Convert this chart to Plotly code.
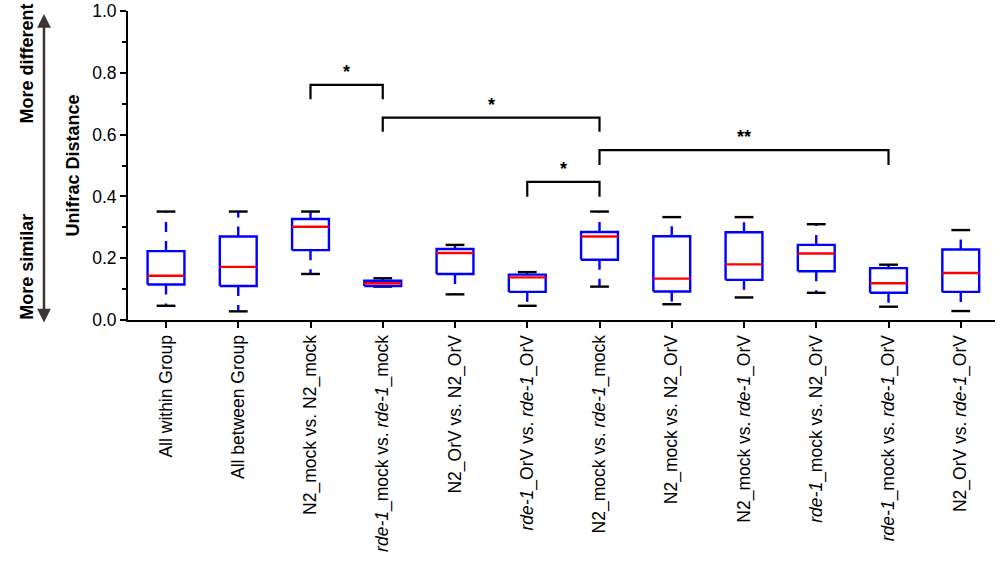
import plotly.graph_objects as go

categories = [
    "All within Group",
    "All between Group",
    "N2_mock vs. N2_mock",
    "<i>rde-1</i>_mock vs. <i>rde-1</i>_mock",
    "N2_OrV vs. N2_OrV",
    "<i>rde-1</i>_OrV vs. <i>rde-1</i>_OrV",
    "N2_mock vs. <i>rde-1</i>_mock",
    "N2_mock vs. N2_OrV",
    "N2_mock vs. <i>rde-1</i>_OrV",
    "<i>rde-1</i>_mock vs. N2_OrV",
    "<i>rde-1</i>_mock vs. <i>rde-1</i>_OrV",
    "N2_OrV vs. <i>rde-1</i>_OrV",
]
whisker_low = [0.046, 0.028, 0.149, 0.108, 0.083, 0.046, 0.108, 0.051, 0.073, 0.088, 0.043, 0.029]
q1 = [0.115, 0.110, 0.226, 0.110, 0.149, 0.091, 0.195, 0.092, 0.130, 0.158, 0.088, 0.091]
median = [0.143, 0.172, 0.302, 0.119, 0.217, 0.138, 0.270, 0.134, 0.180, 0.215, 0.119, 0.152]
q3 = [0.223, 0.270, 0.327, 0.127, 0.230, 0.147, 0.285, 0.271, 0.284, 0.243, 0.168, 0.228]
whisker_high = [0.351, 0.351, 0.351, 0.135, 0.243, 0.155, 0.351, 0.333, 0.333, 0.310, 0.179, 0.291]

# significance brackets: (left index, right index, bracket top, leg bottom, label)
sig_left = [2, 3, 6, 5]
sig_right = [3, 6, 10, 6]
sig_top = [0.761, 0.655, 0.550, 0.447]
sig_leg = [0.714, 0.609, 0.502, 0.399]
sig_label = ["*", "*", "**", "*"]

FONT = "Liberation Sans, Arial, sans-serif"
BOX_HALF = 0.255
CAP_HALF = 0.13
LW = 2.4

bx, by, mx, my, wx, wy, cx, cy = [], [], [], [], [], [], [], []
for i in range(len(categories)):
    bx += [i - BOX_HALF, i + BOX_HALF, i + BOX_HALF, i - BOX_HALF, i - BOX_HALF, None]
    by += [q1[i], q1[i], q3[i], q3[i], q1[i], None]
    mx += [i - BOX_HALF, i + BOX_HALF, None]
    my += [median[i], median[i], None]
    wx += [i, i, None, i, i, None]
    wy += [q3[i], whisker_high[i], None, q1[i], whisker_low[i], None]
    cx += [i - CAP_HALF, i + CAP_HALF, None, i - CAP_HALF, i + CAP_HALF, None]
    cy += [whisker_high[i], whisker_high[i], None, whisker_low[i], whisker_low[i], None]

fig = go.Figure()
fig.add_trace(go.Scatter(x=wx, y=wy, mode="lines", line=dict(color="#0000ff", width=LW, dash="10px,9px"),
                         hoverinfo="skip", showlegend=False))
fig.add_trace(go.Scatter(x=cx, y=cy, mode="lines", line=dict(color="#000000", width=LW),
                         hoverinfo="skip", showlegend=False))
fig.add_trace(go.Scatter(x=bx, y=by, mode="lines", line=dict(color="#0000ff", width=LW),
                         hoverinfo="skip", showlegend=False))
fig.add_trace(go.Scatter(x=mx, y=my, mode="lines", line=dict(color="#ff0000", width=LW),
                         hoverinfo="skip", showlegend=False))

sx, sy = [], []
for a, b, t, l, lab in zip(sig_left, sig_right, sig_top, sig_leg, sig_label):
    sx += [a, a, b, b, None]
    sy += [l, t, t, l, None]
    fig.add_annotation(x=(a + b) / 2, y=t, xref="x", yref="y", text="<b>" + lab + "</b>", showarrow=False,
                       xanchor="center", yanchor="bottom", yshift=1,
                       font=dict(family=FONT, size=18, color="black"))
fig.add_trace(go.Scatter(x=sx, y=sy, mode="lines", line=dict(color="#000000", width=2.2),
                         hoverinfo="skip", showlegend=False))

# left-side orientation arrow and labels (paper coordinates, outside the plot area)
fig.add_annotation(x=-0.0969, y=-0.008, xref="paper", yref="paper", ax=0, ay=-310,
                   axref="pixel", ayref="pixel",
                   text="", showarrow=True, arrowhead=2, arrowside="end+start", arrowsize=1.1,
                   arrowwidth=2.5, arrowcolor="#3d3535")
fig.add_annotation(x=-0.1165, y=0.83, xref="paper", yref="paper", text="<b>More different</b>",
                   textangle=-90, showarrow=False, xanchor="center", yanchor="middle",
                   font=dict(family=FONT, size=18, color="black"))
fig.add_annotation(x=-0.1165, y=0.172, xref="paper", yref="paper", text="<b>More similar</b>",
                   textangle=-90, showarrow=False, xanchor="center", yanchor="middle",
                   font=dict(family=FONT, size=18, color="black"))

fig.update_layout(
    width=1000, height=562,
    margin=dict(l=128, r=5, t=11, b=242),
    plot_bgcolor="white", paper_bgcolor="white",
    font=dict(family=FONT, size=17.5, color="black"),
    showlegend=False,
    xaxis=dict(
        range=[-0.526, 11.474], tickmode="array", tickvals=list(range(len(categories))),
        ticktext=categories, tickangle=-90, showline=True, linecolor="black", linewidth=2,
        ticks="outside", ticklen=6, tickwidth=2, tickcolor="black", showgrid=False, zeroline=False,
        tickfont=dict(family=FONT, size=17.5, color="black"), automargin=False,
    ),
    yaxis=dict(
        range=[0, 1.0], tickmode="linear", tick0=0, dtick=0.2, tickformat=".1f",
        showline=True, linecolor="black", linewidth=2, ticks="outside", ticklen=6, tickwidth=2,
        tickcolor="black", showgrid=False, zeroline=False,
        minor=dict(dtick=0.1, ticks="outside", ticklen=4, tickwidth=1.5, tickcolor="black"),
        title=dict(text="<b>Unifrac Distance</b>", font=dict(family=FONT, size=18, color="black"),
                   standoff=8),
        tickfont=dict(family=FONT, size=17.5, color="black"), automargin=False,
    ),
)

fig.write_html("out.html", config={"displayModeBar": False},
               post_script="document.body.style.margin='0';document.body.style.overflow='hidden';")
